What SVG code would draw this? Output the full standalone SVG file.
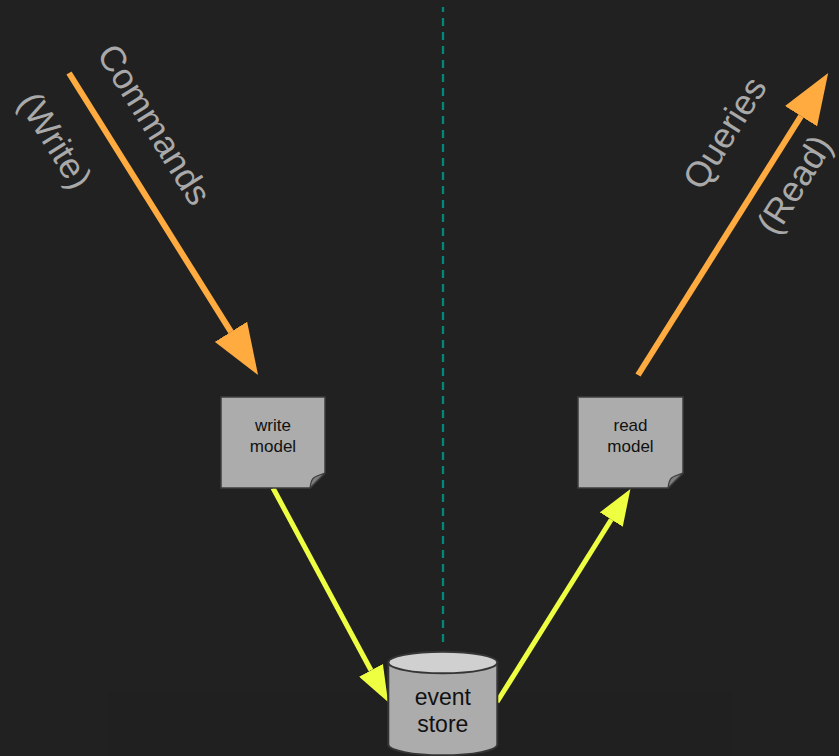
<svg xmlns="http://www.w3.org/2000/svg" width="839" height="756" viewBox="0 0 839 756">
  <style>
    .label { font-family: "Liberation Sans", Arial, sans-serif; font-size: 35.5px; fill: #a9a9a9; }
    .note { fill: #acacac; stroke: #3c3c3c; stroke-width: 1.5; }
    .fold { fill: #7d7d7d; stroke: #3c3c3c; stroke-width: 1.2; stroke-linejoin: round; }
    .note-text { font-family: "Liberation Sans", Arial, sans-serif; font-size: 17px; fill: #111; text-anchor: middle; }
    .db-body { fill: #acacac; stroke: #353535; stroke-width: 2; }
    .db-top { fill: #d0d0d0; stroke: #353535; stroke-width: 2; }
    .db-text { font-family: "Liberation Sans", Arial, sans-serif; font-size: 23px; fill: #111; text-anchor: middle; }
    .flow { fill: none; stroke: #ffab40; stroke-width: 6; }
    .sync { fill: none; stroke: #eeff41; stroke-width: 5; }
    .divider { fill: none; stroke: #00897b; stroke-width: 2.3; stroke-dasharray: 8 6; stroke-dashoffset: 3; }
  </style>
  <defs>
    <marker id="head-orange" markerUnits="userSpaceOnUse" viewBox="0 -19 51 38" refX="0" refY="0" markerWidth="51" markerHeight="38" orient="auto">
      <path d="M0,-19 L51,0 L0,19 Z" fill="#ffab40"/>
    </marker>
    <marker id="head-yellow" markerUnits="userSpaceOnUse" viewBox="0 -13.5 36 27" refX="0" refY="0" markerWidth="36" markerHeight="27" orient="auto">
      <path d="M0,-13.5 L36,0 L0,13.5 Z" fill="#eeff41"/>
    </marker>
  </defs>

  <rect x="0" y="0" width="839" height="756" fill="#212121"/>
  <rect x="108" y="692" width="625" height="64" fill="#202020"/>

  <!-- write / read divider -->
  <line class="divider" x1="443" y1="7" x2="443" y2="642"/>

  <g id="connectors">
    <!-- commands in: tip at (258,375) -->
    <path id="commands" class="flow" d="M69,73 L231,331.8" marker-end="url(#head-orange)"/>
    <!-- queries out: tip at (828,73) -->
    <path id="queries" class="flow" d="M638,375 L801,116.2" marker-end="url(#head-orange)"/>
    <!-- write model to event store: tip at (388,702) -->
    <path id="write-to-store" class="sync" d="M273,488 L371,670.3" marker-end="url(#head-yellow)"/>
    <!-- event store to read model: tip at (630.5,489) -->
    <path id="store-to-read" class="sync" d="M497,702 L611.3,519.5" marker-end="url(#head-yellow)"/>
  </g>

  <g id="labels">
    <text class="label" transform="translate(96,54) rotate(58)">Commands</text>
    <text class="label" transform="translate(17,102) rotate(58)">(Write)</text>
    <text class="label" transform="translate(702,192) rotate(-58)">Queries</text>
    <text class="label" transform="translate(776,237) rotate(-58)">(Read)</text>
  </g>

  <g id="write-model">
    <path class="note" d="M221,397 H325 V473 L310,488 H221 Z"/>
    <path class="fold" d="M310,488 Q311,480 313.5,478 Q316,476 325,473 Z"/>
    <text class="note-text" x="273" y="431">write</text>
    <text class="note-text" x="273" y="452">model</text>
  </g>

  <g id="read-model">
    <path class="note" d="M578,397 H683 V473 L668,488 H578 Z"/>
    <path class="fold" d="M668,488 Q669,480 671.5,478 Q674,476 683,473 Z"/>
    <text class="note-text" x="630.5" y="431">read</text>
    <text class="note-text" x="630.5" y="452">model</text>
  </g>

  <g id="event-store">
    <path class="db-body" d="M388.3,662.5 V744.5 A54.5,10.8 0 0 0 497.3,744.5 V662.5"/>
    <ellipse class="db-top" cx="442.8" cy="662.5" rx="54.5" ry="10.8"/>
    <text class="db-text" x="442.8" y="705">event</text>
    <text class="db-text" x="442.8" y="732">store</text>
  </g>
</svg>
